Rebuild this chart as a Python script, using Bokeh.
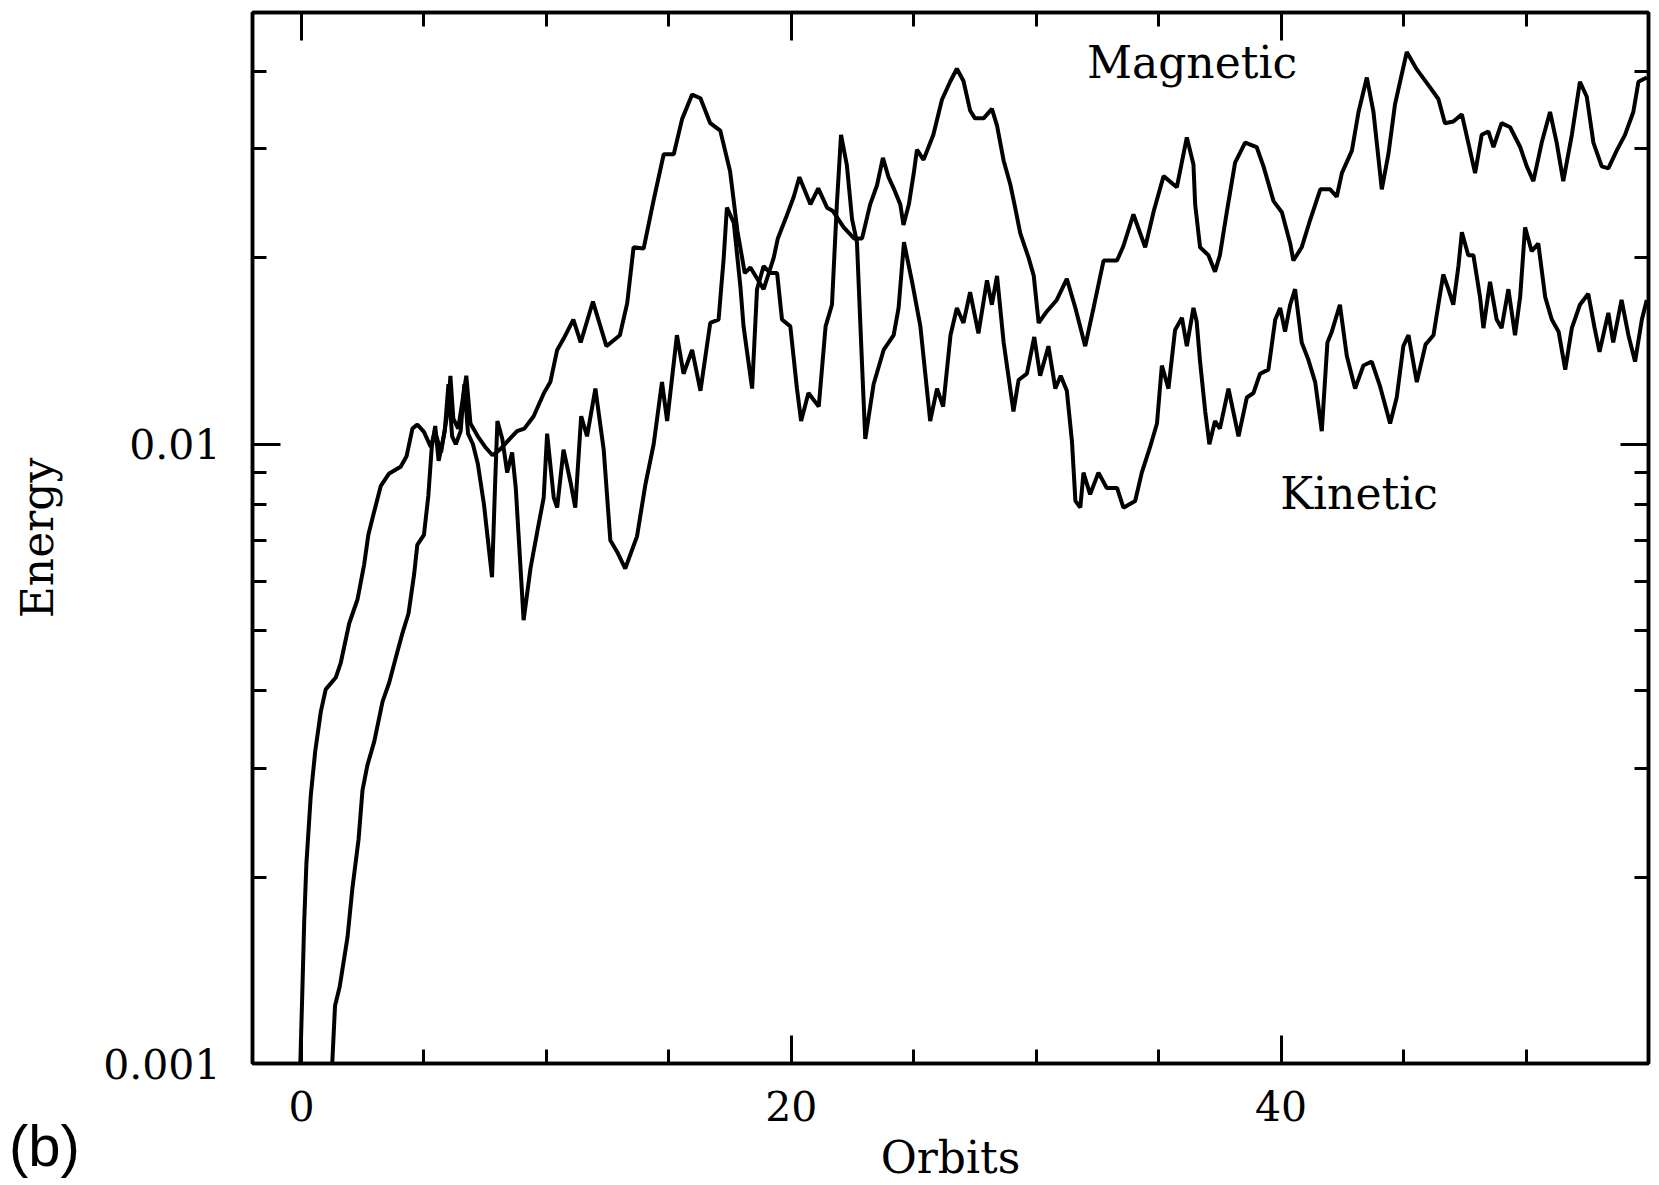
from bokeh.plotting import figure
from bokeh.layouts import column
from bokeh.models import (FixedTicker, LinearAxis, LogAxis, Label, Range1d, Div,
                          NumeralTickFormatter, CustomJSTickFormatter)
from bokeh.embed import file_html
from bokeh.resources import INLINE

# ---- data (orbits, energy) ----
magnetic_orbits = [-0.08, 0.04, 0.11, 0.2, 0.38, 0.56, 0.79, 0.99, 1.4, 1.6, 1.95, 2.29, 2.56, 2.73, 2.93,
                   3.24, 3.58, 4.05, 4.29, 4.53, 4.73, 5.0, 5.28, 5.45, 5.7, 6.0, 6.08, 6.2, 6.4, 6.73,
                   6.9, 7.2, 7.5, 7.8, 8.1, 8.4, 8.8, 9.1, 9.48, 9.9, 10.16, 10.44, 10.7, 11.1, 11.4,
                   11.9, 12.45, 13.0, 13.3, 13.56, 13.97, 14.38, 14.79, 15.2, 15.54, 15.95, 16.29, 16.69,
                   17.1, 17.5, 17.8, 18.1, 18.33, 18.87, 19.28, 19.45, 19.76, 20.1, 20.33, 20.78, 21.1,
                   21.46, 21.7, 22.14, 22.56, 22.89, 23.22, 23.5, 23.74, 23.97, 24.18, 24.45, 24.58, 24.8,
                   25.0, 25.13, 25.4, 25.8, 26.15, 26.5, 26.76, 27.03, 27.3, 27.5, 27.85, 28.19, 28.4,
                   28.67, 28.94, 29.14, 29.35, 29.69, 29.9, 30.1, 30.44, 30.84, 31.25, 31.6, 32.0, 32.34,
                   32.75, 33.3, 33.56, 33.97, 34.45, 34.8, 35.2, 35.74, 36.15, 36.42, 36.49, 36.69, 37.03,
                   37.3, 37.5, 37.78, 38.12, 38.53, 39.0, 39.28, 39.69, 40.03, 40.37, 40.5, 40.84, 41.18,
                   41.6, 42.0, 42.27, 42.48, 42.89, 43.16, 43.5, 43.77, 44.11, 44.38, 44.65, 45.13, 45.54,
                   46.08, 46.42, 46.69, 47.03, 47.38, 47.64, 47.92, 48.19, 48.46, 48.67, 49.0, 49.35,
                   49.76, 50.03, 50.3, 50.64, 50.98, 51.25, 51.52, 51.87, 52.2, 52.48, 52.75, 53.09,
                   53.36, 53.7, 54.04, 54.38, 54.59, 54.93]
magnetic_energy = [0.0009, 0.00133, 0.00169, 0.0021, 0.00271, 0.00319, 0.0037, 0.00402, 0.0042, 0.00443,
                   0.00514, 0.00562, 0.0064, 0.00714, 0.00768, 0.00857, 0.00897, 0.0092, 0.00956, 0.0106,
                   0.01076, 0.01047, 0.0099, 0.0105, 0.0097, 0.0115, 0.0129, 0.011, 0.0106, 0.0129,
                   0.0108, 0.0103, 0.0099, 0.0096, 0.0098, 0.0101, 0.0105, 0.0106, 0.0111, 0.0121,
                   0.0126, 0.0142, 0.0148, 0.0159, 0.0146, 0.0170, 0.0144, 0.0150, 0.0169, 0.0208,
                   0.0207, 0.0248, 0.0294, 0.0294, 0.0335, 0.0367, 0.0362, 0.0330, 0.0321, 0.0276,
                   0.0221, 0.0189, 0.0193, 0.0178, 0.0200, 0.0215, 0.0231, 0.0251, 0.0270, 0.0244,
                   0.0259, 0.0241, 0.0238, 0.0224, 0.0215, 0.0215, 0.0244, 0.0262, 0.0290, 0.0270,
                   0.0259, 0.0244, 0.0226, 0.0244, 0.0274, 0.0299, 0.0288, 0.0316, 0.0360, 0.0386,
                   0.0404, 0.0386, 0.0346, 0.0336, 0.0336, 0.0348, 0.0327, 0.0287, 0.0263, 0.0241,
                   0.0219, 0.0200, 0.0187, 0.0157, 0.0164, 0.0171, 0.0185, 0.0166, 0.0144, 0.0166,
                   0.0198, 0.0198, 0.0209, 0.0235, 0.0208, 0.0238, 0.0271, 0.0260, 0.0313, 0.0283,
                   0.0244, 0.0208, 0.0202, 0.0190, 0.0202, 0.0237, 0.0285, 0.0307, 0.0302, 0.0281,
                   0.0247, 0.0237, 0.0211, 0.0198, 0.0208, 0.0230, 0.0258, 0.0258, 0.0251, 0.0274,
                   0.0298, 0.0344, 0.0391, 0.0344, 0.0258, 0.0294, 0.0354, 0.0430, 0.0403, 0.0377,
                   0.0361, 0.0330, 0.0332, 0.0341, 0.0307, 0.0274, 0.0316, 0.0320, 0.0302, 0.0330,
                   0.0325, 0.0302, 0.0281, 0.0266, 0.0307, 0.0344, 0.0307, 0.0266, 0.0316, 0.0385,
                   0.0364, 0.0307, 0.0281, 0.0279, 0.0298, 0.0316, 0.0344, 0.0385, 0.0391]

kinetic_orbits = [1.2, 1.37, 1.56, 1.88, 2.08, 2.33, 2.49, 2.69, 2.97, 3.31, 3.58, 3.85, 4.12, 4.37, 4.6,
                  4.73, 5.0, 5.18, 5.32, 5.46, 5.6, 5.85, 6.0, 6.15, 6.3, 6.5, 6.65, 6.8, 7.0, 7.2, 7.45,
                  7.78, 7.9, 8.0, 8.2, 8.4, 8.6, 8.75, 9.07, 9.35, 9.62, 9.89, 10.03, 10.3, 10.44, 10.7,
                  10.98, 11.18, 11.42, 11.66, 12.0, 12.34, 12.61, 12.89, 13.22, 13.7, 14.04, 14.38,
                  14.72, 14.93, 15.33, 15.6, 15.95, 16.29, 16.69, 17.03, 17.24, 17.37, 17.65, 17.92,
                  18.05, 18.4, 18.6, 18.87, 19.14, 19.42, 19.62, 19.96, 20.23, 20.4, 20.7, 21.12, 21.4,
                  21.66, 21.86, 22.03, 22.27, 22.48, 22.68, 22.89, 23.02, 23.36, 23.77, 24.18, 24.38,
                  24.6, 24.93, 25.27, 25.67, 25.95, 26.2, 26.5, 26.76, 27.03, 27.3, 27.64, 27.99, 28.19,
                  28.4, 28.67, 29.07, 29.28, 29.62, 29.92, 30.16, 30.5, 30.78, 31.0, 31.25, 31.46, 31.6,
                  31.8, 31.93, 32.2, 32.54, 32.88, 33.3, 33.56, 34.04, 34.31, 34.65, 34.93, 35.13, 35.4,
                  35.67, 35.95, 36.15, 36.42, 36.55, 36.69, 36.9, 37.07, 37.3, 37.5, 37.85, 38.26, 38.6,
                  38.87, 39.14, 39.48, 39.76, 39.96, 40.16, 40.37, 40.57, 40.84, 41.11, 41.39, 41.66,
                  41.89, 42.07, 42.4, 42.68, 43.02, 43.36, 43.7, 44.04, 44.45, 44.72, 44.99, 45.2, 45.54,
                  45.9, 46.22, 46.42, 46.62, 46.83, 47.03, 47.24, 47.38, 47.64, 47.85, 48.12, 48.26,
                  48.53, 48.8, 49.0, 49.28, 49.55, 49.76, 49.96, 50.23, 50.5, 50.78, 51.05, 51.33, 51.6,
                  51.87, 52.2, 52.54, 52.8, 53.0, 53.36, 53.56, 53.9, 54.18, 54.45, 54.73, 54.93]
kinetic_energy = [0.0009, 0.00124, 0.00133, 0.0016, 0.00192, 0.0023, 0.00276, 0.00303, 0.00331, 0.00384,
                  0.00412, 0.00452, 0.00495, 0.00533, 0.00617, 0.00688, 0.00714, 0.00826, 0.0099, 0.0107,
                  0.0094, 0.0105, 0.0125, 0.0103, 0.0100, 0.0105, 0.0125, 0.0104, 0.0100, 0.0093, 0.0080,
                  0.0061, 0.0085, 0.0109, 0.0102, 0.0090, 0.0097, 0.0085, 0.0052, 0.0063, 0.0072, 0.0082,
                  0.0104, 0.0082, 0.0079, 0.0098, 0.0087, 0.0079, 0.0111, 0.0103, 0.0123, 0.0098, 0.0070,
                  0.0067, 0.0063, 0.0071, 0.0086, 0.0100, 0.0126, 0.0109, 0.0150, 0.0130, 0.0142, 0.0122,
                  0.0157, 0.0159, 0.0200, 0.0241, 0.0228, 0.0180, 0.0155, 0.0123, 0.0178, 0.0194, 0.0189,
                  0.0189, 0.0159, 0.0155, 0.0123, 0.0109, 0.0121, 0.0115, 0.0155, 0.0168, 0.0244, 0.0316,
                  0.0282, 0.0231, 0.0212, 0.0134, 0.0102, 0.0125, 0.0142, 0.0150, 0.0166, 0.0212, 0.0183,
                  0.0155, 0.0109, 0.0123, 0.0115, 0.0150, 0.0166, 0.0157, 0.0176, 0.0151, 0.0184, 0.0168,
                  0.0187, 0.0146, 0.0113, 0.0127, 0.0130, 0.0149, 0.0129, 0.0144, 0.0123, 0.0129, 0.0122,
                  0.0101, 0.0081, 0.0079, 0.0090, 0.0083, 0.0090, 0.0085, 0.0085, 0.0079, 0.0081, 0.0090,
                  0.0099, 0.0108, 0.0134, 0.0123, 0.0153, 0.0160, 0.0144, 0.0166, 0.0158, 0.0136, 0.0113,
                  0.0100, 0.0109, 0.0106, 0.0123, 0.0103, 0.0119, 0.0121, 0.0130, 0.0132, 0.0159, 0.0166,
                  0.0152, 0.0168, 0.0178, 0.0146, 0.0137, 0.0126, 0.0105, 0.0146, 0.0152, 0.0168, 0.0139,
                  0.0123, 0.0134, 0.0136, 0.0124, 0.0108, 0.0119, 0.0144, 0.0150, 0.0126, 0.0145, 0.0150,
                  0.0168, 0.0188, 0.0178, 0.0168, 0.0194, 0.0220, 0.0202, 0.0202, 0.0173, 0.0154, 0.0183,
                  0.0159, 0.0154, 0.0178, 0.0150, 0.0173, 0.0224, 0.0205, 0.0211, 0.0173, 0.0159, 0.0152,
                  0.0132, 0.0154, 0.0168, 0.0175, 0.0154, 0.0141, 0.0163, 0.0146, 0.0171, 0.0150, 0.0136,
                  0.0159, 0.0171]

x_major_ticks = [0, 20, 40]
x_minor_ticks = [5, 10, 15, 25, 30, 35, 45, 50]
y_major_ticks = [0.001, 0.01]
y_minor_ticks = [0.002, 0.003, 0.004, 0.005, 0.006, 0.007, 0.008, 0.009, 0.02, 0.03, 0.04]

SERIF = "DejaVu Serif"

p = figure(width=1659, height=1185, x_range=Range1d(-2.0, 55.0), y_range=Range1d(0.001, 0.0498),
           y_axis_type="log", output_backend="svg", toolbar_location=None,
           min_border_left=252, min_border_right=11, min_border_top=12, min_border_bottom=121)
p.grid.visible = False
p.background_fill_color = "white"
p.border_fill_color = "white"
p.outline_line_color = "black"
p.outline_line_width = 3.5


def style_axis(ax, show_labels):
    ax.axis_line_width = 3.5
    ax.axis_line_color = "black"
    ax.major_tick_in = 28
    ax.major_tick_out = 0
    ax.minor_tick_in = 14
    ax.minor_tick_out = 0
    ax.major_tick_line_width = 3
    ax.minor_tick_line_width = 3
    ax.major_tick_line_color = "black"
    ax.minor_tick_line_color = "black"
    if show_labels:
        ax.major_label_text_font = SERIF
        ax.major_label_text_font_size = "41px"
        ax.major_label_text_color = "black"
    else:
        ax.formatter = CustomJSTickFormatter(code="return ''")
        ax.major_label_text_font_size = "1px"
        ax.major_label_standoff = 0


xt = FixedTicker(ticks=x_major_ticks, minor_ticks=x_minor_ticks)
yt = FixedTicker(ticks=y_major_ticks, minor_ticks=y_minor_ticks)

xa = p.xaxis[0]
xa.ticker = xt
style_axis(xa, True)
xa.major_label_standoff = 27
xa.axis_label = "Orbits"
xa.axis_label_text_font = SERIF
xa.axis_label_text_font_size = "44px"
xa.axis_label_text_font_style = "normal"
xa.axis_label_text_color = "black"
xa.axis_label_standoff = 8

ya = p.yaxis[0]
ya.ticker = yt
ya.formatter = NumeralTickFormatter(format="0.[000]")
style_axis(ya, True)
ya.major_label_standoff = 32
ya.axis_label = "Energy"
ya.axis_label_text_font = SERIF
ya.axis_label_text_font_size = "44px"
ya.axis_label_text_font_style = "normal"
ya.axis_label_text_color = "black"
ya.axis_label_standoff = 37

top = LinearAxis(ticker=xt)
style_axis(top, False)
p.add_layout(top, "above")

right = LogAxis(ticker=yt)
style_axis(right, False)
p.add_layout(right, "right")

p.line(magnetic_orbits, magnetic_energy, line_color="black", line_width=4)
p.line(kinetic_orbits, kinetic_energy, line_color="black", line_width=4)

p.add_layout(Label(x=32.07, y=0.0413, text="Magnetic", text_font=SERIF, text_font_size="44px",
                   text_baseline="alphabetic", text_align="left", text_color="black"))
p.add_layout(Label(x=39.96, y=0.00832, text="Kinetic", text_font=SERIF, text_font_size="44px",
                   text_baseline="alphabetic", text_align="left", text_color="black"))

# panel tag "(b)" in the lower-left corner of the page, outside the plot frame
tag = Div(text='<span style="font-family: \'Liberation Sans\', Arial, sans-serif; font-size: 58px; '
               'line-height: 1; color: black; white-space: nowrap;">(b)</span>',
          styles={"position": "absolute", "left": "9px", "top": "1117px",
                  "margin": "0", "padding": "0", "z-index": "10"})

page = column(p, tag, spacing=0)

open("out.html", "w").write(file_html(page, INLINE))
